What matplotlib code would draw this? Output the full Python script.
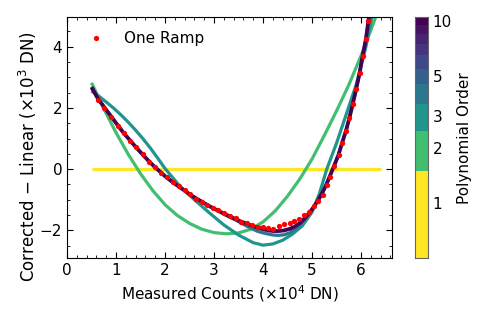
import matplotlib
matplotlib.use("Agg")
import matplotlib.pyplot as plt
from matplotlib.colors import LogNorm
from matplotlib.ticker import MultipleLocator, NullLocator

plt.rcParams['font.size'] = 11

# measured ramp (x in 1e4 DN, residual in 1e3 DN)
counts = [0.63, 0.76, 0.90, 1.03, 1.16, 1.29, 1.41, 1.54, 1.67, 1.79,
          1.91, 2.03, 2.16, 2.28, 2.40, 2.51, 2.63, 2.75, 2.86, 2.98,
          3.09, 3.20, 3.32, 3.44, 3.55, 3.67, 3.78, 3.89, 4.00, 4.11,
          4.21, 4.32, 4.43, 4.54, 4.64, 4.74, 4.84, 4.94, 5.04, 5.13,
          5.22, 5.30, 5.37, 5.45, 5.54, 5.61, 5.69, 5.76, 5.83, 5.90,
          5.97, 6.03, 6.10, 6.15]
resid = [2.26, 2.01, 1.71, 1.41, 1.17, 0.93, 0.71, 0.48, 0.24, 0.07,
         -0.11, -0.27, -0.43, -0.55, -0.69, -0.82, -0.97, -1.07, -1.16, -1.27,
         -1.33, -1.43, -1.52, -1.60, -1.72, -1.77, -1.81, -1.88, -1.90, -1.92,
         -1.95, -1.84, -1.80, -1.76, -1.69, -1.62, -1.51, -1.41, -1.21, -1.04,
         -0.84, -0.53, -0.24, 0.10, 0.45, 0.85, 1.26, 1.68, 2.13, 2.62,
         3.14, 3.70, 4.26, 4.85]

# fitted curves
o1_x = [0.5, 6.4]
o1_y = [0.0, 0.0]

o2_x = [0.5, 0.75, 1.0, 1.25, 1.5, 1.75, 2.0, 2.25, 2.5, 2.75, 3.0, 3.25,
        3.5, 3.75, 4.0, 4.25, 4.5, 4.75, 5.0, 5.25, 5.5, 5.75, 6.0, 6.25, 6.4]
o2_y = [2.82, 1.97, 1.19, 0.48, -0.15, -0.70, -1.16, -1.51, -1.77, -1.96,
        -2.07, -2.11, -2.08, -1.96, -1.72, -1.36, -0.88, -0.32, 0.33, 1.10,
        1.90, 2.75, 3.70, 4.75, 5.40]

o3_x = [0.5, 0.65, 0.8, 0.95, 1.1, 1.25, 1.4, 1.55, 1.7, 1.85, 2.0, 2.3,
        2.6, 2.9, 3.2, 3.5, 3.8, 4.0, 4.2, 4.4, 4.6, 4.8, 5.0, 5.15, 5.3,
        5.5, 5.7, 5.9, 6.1, 6.25]
o3_y = [2.55, 2.38, 2.19, 1.99, 1.77, 1.53, 1.27, 0.99, 0.69, 0.36, 0.02,
        -0.55, -1.00, -1.42, -1.82, -2.15, -2.40, -2.48, -2.44, -2.32, -2.12,
        -1.85, -1.40, -0.80, 0.0, 0.85, 1.80, 2.75, 4.00, 5.20]

hi_x = [0.5, 0.63, 0.76, 0.90, 1.03, 1.16, 1.29, 1.41, 1.54, 1.67, 1.79,
        1.91, 2.03, 2.16, 2.28, 2.40, 2.51, 2.63, 2.75, 2.86, 2.98, 3.09,
        3.20, 3.32, 3.44, 3.55, 3.67, 3.78, 3.89, 4.00, 4.11, 4.21, 4.32,
        4.43, 4.54, 4.64, 4.74, 4.84, 4.94, 5.04, 5.13, 5.22, 5.30, 5.37,
        5.45, 5.54, 5.61, 5.69, 5.76, 5.83, 5.90, 5.97, 6.03, 6.10, 6.15, 6.22]
o4_y = [2.64, 2.30, 2.02, 1.72, 1.44, 1.17, 0.93, 0.71, 0.48, 0.26, 0.07,
        -0.10, -0.27, -0.43, -0.57, -0.70, -0.83, -0.95, -1.06, -1.17, -1.27, -1.37,
        -1.47, -1.57, -1.66, -1.76, -1.86, -1.95, -2.03, -2.08, -2.12, -2.15, -2.16,
        -2.14, -2.08, -1.98, -1.84, -1.66, -1.44, -1.22, -1.00, -0.74, -0.47, -0.20,
        0.11, 0.47, 0.84, 1.24, 1.66, 2.12, 2.61, 3.13, 3.68, 4.25, 4.85, 5.5]
o10_y = [2.68, 2.30, 2.02, 1.72, 1.44, 1.17, 0.93, 0.71, 0.48, 0.26, 0.07,
         -0.10, -0.27, -0.43, -0.57, -0.70, -0.83, -0.95, -1.06, -1.17, -1.27, -1.36,
         -1.45, -1.54, -1.63, -1.71, -1.78, -1.85, -1.91, -1.96, -2.00, -2.02, -2.02,
         -2.00, -1.95, -1.88, -1.77, -1.62, -1.44, -1.22, -1.00, -0.74, -0.47, -0.20,
         0.11, 0.47, 0.84, 1.24, 1.66, 2.12, 2.61, 3.13, 3.68, 4.25, 4.85, 5.5]

orders = [1, 2, 3, 4, 10]
curves = [(o1_x, o1_y), (o2_x, o2_y), (o3_x, o3_y), (hi_x, o4_y), (hi_x, o10_y)]
widths = [2.3, 2.3, 2.3, 2.3, 2.7]
cbar_ticks = [1, 2, 3, 5, 10]

cmap = plt.get_cmap('viridis_r')
norm = LogNorm(1, 10)

fig = plt.figure(figsize=(4.93, 3.17), dpi=100)
ax = fig.add_axes([0.136, 0.186, 0.659, 0.759])
cax = fig.add_axes([0.842, 0.186, 0.027, 0.759])

for n, (cx, cy), w in zip(orders, curves, widths):
    ax.plot(cx, cy, color=cmap(norm(n)), lw=w, solid_capstyle='butt')
ax.plot(counts, resid, 'o', color='red', ms=3.8, mew=0, label='One Ramp', zorder=5)

ax.set_xlim(0, 6.63)
ax.set_ylim(-2.9, 4.95)
ax.xaxis.set_major_locator(MultipleLocator(1))
ax.xaxis.set_minor_locator(MultipleLocator(0.2))
ax.yaxis.set_major_locator(MultipleLocator(2))
ax.yaxis.set_minor_locator(MultipleLocator(0.5))
ax.tick_params(which='both', direction='in', top=True, right=True)
ax.tick_params(which='major', length=4)
ax.tick_params(which='minor', length=2)
ax.set_xlabel(r'Measured Counts ($\times10^4$ DN)')
ax.set_ylabel(r'Corrected $-$ Linear ($\times10^3$ DN)', fontsize=12)
ax.yaxis.set_label_coords(-0.085, 0.42)
ax.legend(loc='upper left', frameon=False, numpoints=1)

# discrete colour bar on a log axis
bounds = [k + 0.5 for k in range(0, 11)]
cax.set_yscale('log')
for k in range(1, 11):
    cax.axhspan(bounds[k - 1], bounds[k], color=cmap(norm(k)), lw=0)
cax.set_ylim(0.5, 10.5)
cax.set_xlim(0, 1)
cax.set_xticks([])
cax.yaxis.set_minor_locator(NullLocator())
cax.set_yticks(cbar_ticks)
cax.set_yticklabels([str(t) for t in cbar_ticks])
cax.yaxis.tick_right()
cax.tick_params(axis='y', length=0, pad=3)
cax.yaxis.set_label_position('right')
cax.set_ylabel('Polynomial Order', labelpad=4)
for s in cax.spines.values():
    s.set_color('0.4')

fig.savefig('out.png', dpi=100)
